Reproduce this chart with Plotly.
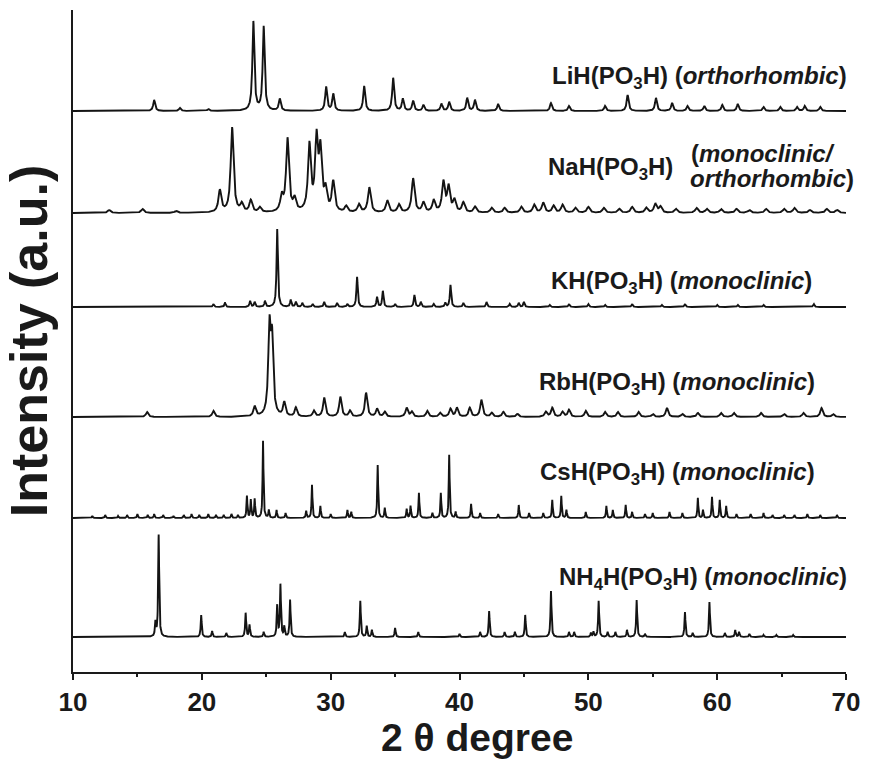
import numpy as np
import plotly.graph_objects as go

# Powder XRD patterns of MH(PO3H) salts, stacked with vertical offsets.
# Each pattern is given as reflection positions (2theta, deg) and peak heights (a.u.).

li_pos = [16.3, 18.3, 20.5, 24.0, 24.8, 26.05, 29.65, 30.2, 32.6, 34.85, 35.6, 36.4, 37.2, 38.6, 39.2,
          40.6, 41.2, 43.0, 47.1, 48.5, 51.3, 53.05, 55.25, 56.5, 57.7, 59.0, 60.4, 61.6, 63.6, 64.9,
          66.2, 66.8, 68.0]
li_int = [11, 3, 2, 89, 84, 12, 24, 17, 25, 33, 12, 10, 6, 7, 9,
          13, 11, 7, 8, 5, 5, 16, 13, 8, 5, 5, 6, 7, 4, 4,
          4, 5, 4]

na_pos = [12.8, 15.4, 18.0, 21.4, 22.35, 23.1, 23.8, 24.5, 26.2, 26.65, 27.2, 28.35, 28.9, 29.2, 29.6,
          30.2, 31.2, 32.2, 33.0, 34.4, 35.3, 36.4, 37.2, 38.0, 38.75, 39.15, 39.6, 40.3, 41.2, 42.5,
          43.5, 44.8, 45.8, 46.5, 47.3, 48.0, 49.0, 50.0, 51.2, 52.4, 53.4, 54.5, 55.2, 55.6, 56.8,
          58.4, 59.2, 60.3, 61.5, 62.5, 63.8, 65.2, 66.0, 67.2, 68.5, 69.3]
na_int = [3, 4, 2, 22, 85, 8, 12, 5, 15, 73, 12, 66, 70, 58, 20,
          30, 6, 8, 25, 12, 8, 34, 10, 12, 30, 25, 12, 10, 6, 5,
          5, 6, 8, 10, 7, 8, 5, 6, 5, 4, 6, 5, 9, 6, 4,
          5, 4, 4, 4, 3, 4, 4, 5, 3, 4, 3]

k_pos = [20.9, 21.8, 23.75, 24.1, 24.9, 25.85, 26.9, 27.3, 27.8, 28.6, 29.5, 30.5, 31.3, 32.05, 33.6,
         34.05, 35.0, 36.5, 37.0, 38.0, 38.9, 39.3, 40.3, 42.1, 43.9, 44.6, 45.0, 47.0, 48.5, 50.0,
         51.3, 53.4, 55.7, 57.5, 60.0, 61.6, 63.6, 67.5]
k_int = [3, 4, 6, 5, 6, 78, 7, 5, 4, 3, 5, 4, 3, 30, 10,
         16, 3, 12, 5, 3, 4, 22, 4, 5, 3, 4, 5, 2, 3, 3,
         2, 3, 2, 3, 2, 2, 2, 3]

rb_pos = [15.75, 20.9, 24.1, 25.25, 25.45, 26.4, 27.3, 28.7, 29.5, 30.75, 31.5, 32.75, 33.6, 34.2, 35.9,
          36.3, 37.5, 38.5, 39.3, 39.8, 40.8, 41.7, 42.5, 43.4, 44.5, 46.7, 47.2, 48.0, 48.5, 49.8,
          51.3, 52.3, 53.9, 55.0, 56.1, 57.3, 58.5, 60.3, 61.3, 63.4, 65.2, 66.7, 68.1, 69.0]
rb_int = [5, 6, 10, 85, 72, 14, 9, 6, 19, 20, 6, 24, 8, 5, 9,
          5, 6, 4, 8, 9, 9, 17, 4, 5, 3, 5, 9, 5, 7, 6,
          5, 5, 5, 3, 9, 3, 4, 4, 4, 4, 3, 4, 9, 3]

cs_pos = [11.5, 12.5, 13.5, 14.2, 15.0, 15.8, 16.3, 17.0, 17.8, 18.6, 19.2, 19.8, 20.5, 21.1, 21.7,
          22.3, 22.8, 23.5, 23.8, 24.1, 24.75, 25.2, 25.8, 26.5, 28.1, 28.55, 29.2, 30.0, 31.3, 31.6,
          33.65, 34.2, 35.9, 36.2, 36.85, 37.9, 38.55, 39.2, 39.7, 40.9, 41.6, 43.0, 44.6, 45.4, 46.5,
          47.2, 47.9, 48.3, 49.8, 51.4, 51.9, 52.9, 53.4, 54.4, 55.0, 56.3, 57.3, 58.5, 58.9, 59.6,
          60.2, 60.7, 61.5, 62.6, 63.6, 64.3, 65.2, 66.0, 67.0, 68.0, 69.3]
cs_int = [2, 3, 2, 3, 4, 3, 4, 3, 2, 3, 4, 3, 4, 3, 3,
          4, 3, 22, 18, 19, 77, 8, 8, 5, 7, 33, 12, 4, 8, 6,
          53, 10, 9, 12, 25, 5, 25, 63, 6, 14, 5, 4, 13, 5, 5,
          18, 22, 8, 6, 12, 8, 13, 6, 4, 5, 6, 5, 20, 8, 21,
          18, 12, 4, 4, 5, 3, 3, 3, 4, 3, 3]

nh4_pos = [16.4, 16.65, 19.95, 20.8, 21.9, 23.4, 23.7, 24.8, 25.85, 26.1, 26.4, 26.85, 31.1, 32.3, 32.8,
           33.2, 35.0, 36.8, 40.0, 41.6, 42.3, 43.5, 44.3, 45.1, 47.1, 48.5, 48.9, 50.2, 50.4, 50.8,
           51.5, 52.1, 53.0, 53.75, 54.4, 57.5, 58.1, 59.4, 60.6, 61.4, 61.7, 62.5, 63.6, 64.6, 65.9]
nh4_int = [14, 102, 22, 6, 4, 24, 12, 5, 31, 52, 10, 37, 5, 36, 11,
           7, 9, 5, 3, 5, 26, 5, 5, 22, 46, 5, 5, 4, 5, 36,
           5, 5, 7, 37, 3, 25, 4, 35, 4, 7, 5, 3, 2, 2, 2]

# vertical offsets of the stacked patterns (a.u.)
offsets = [561, 459, 365, 255, 154, 35]

labels = [
    "LiH(PO<sub>3</sub>H) (<i>orthorhombic</i>)",
    "NaH(PO<sub>3</sub>H)",
    "KH(PO<sub>3</sub>H) (<i>monoclinic</i>)",
    "RbH(PO<sub>3</sub>H) (<i>monoclinic</i>)",
    "CsH(PO<sub>3</sub>H) (<i>monoclinic</i>)",
    "NH<sub>4</sub>H(PO<sub>3</sub>H) (<i>monoclinic</i>)",
]
na_phase = ["(<i>monoclinic/</i>", "<i>orthorhombic</i>)"]

x_ticks = [10, 20, 30, 40, 50, 60, 70]

patterns = [(li_pos, li_int), (na_pos, na_int), (k_pos, k_int),
            (rb_pos, rb_int), (cs_pos, cs_int), (nh4_pos, nh4_int)]
# peak half-widths (deg) per pattern: broader lines for the Na and Rb salts
hwhm = [0.09, 0.13, 0.06, 0.11, 0.04, 0.045]

two_theta = np.arange(10.0, 70.0001, 0.01)


def profile(pos, inten, w):
    y = np.zeros_like(two_theta)
    for p, h in zip(pos, inten):
        y += h / (1.0 + ((two_theta - p) / w) ** 2)
    return y


fig = go.Figure()
for (pos, inten), w, off in zip(patterns, hwhm, offsets):
    fig.add_trace(go.Scatter(
        x=two_theta, y=profile(pos, inten, w) + off, mode="lines",
        line=dict(color="#141414", width=1.9), showlegend=False, hoverinfo="skip"))

FONT = "Liberation Sans, Arial, sans-serif"
INK = "#1a1a1a"
label_font = dict(family=FONT, size=24, color=INK)

# label anchors: (right edge as fraction of plot width, height in a.u.)
label_pos = [(1.004, 595), (0.779, 504), (0.959, 390), (0.963, 289), (0.963, 199), (1.004, 94)]
for text, (lx, ly) in zip(labels, label_pos):
    fig.add_annotation(x=lx, y=ly, xref="paper", yref="y", text="<b>" + text + "</b>",
                       showarrow=False, xanchor="right", yanchor="middle", font=label_font)

# the Na salt phase description spans two lines
for text, (lx, ly) in zip(na_phase, [(0.988, 519), (1.013, 494)]):
    fig.add_annotation(x=lx, y=ly, xref="paper", yref="y", text="<b>" + text + "</b>",
                       showarrow=False, xanchor="right", yanchor="middle", font=label_font)

# x-axis title
fig.add_annotation(x=0.522, y=-0.099, xref="paper", yref="paper", text="<b>2 θ degree</b>",
                   showarrow=False, xanchor="center", yanchor="middle",
                   font=dict(family=FONT, size=39, color=INK))

fig.update_layout(
    width=870, height=760,
    margin=dict(l=73, r=18, t=10, b=88),
    paper_bgcolor="white", plot_bgcolor="white",
    font=dict(family=FONT, color=INK),
    xaxis=dict(
        range=[10, 70], tickvals=x_ticks, ticktext=[str(t) for t in x_ticks],
        showline=True, linecolor=INK, linewidth=2, mirror=False,
        ticks="outside", ticklen=6, tickwidth=2, tickcolor=INK,
        minor=dict(dtick=5, tick0=5, ticks="outside", ticklen=3, tickwidth=2, tickcolor=INK),
        showgrid=False, zeroline=False,
        tickfont=dict(size=26, family=FONT, weight="bold"),
    ),
    yaxis=dict(
        range=[0, 662], showline=True, linecolor=INK, linewidth=2,
        showticklabels=False, ticks="", showgrid=False, zeroline=False,
        title=dict(text="<b>Intensity (a.u.)</b>", font=dict(size=52), standoff=12),
    ),
)

fig.write_html("out.html")
